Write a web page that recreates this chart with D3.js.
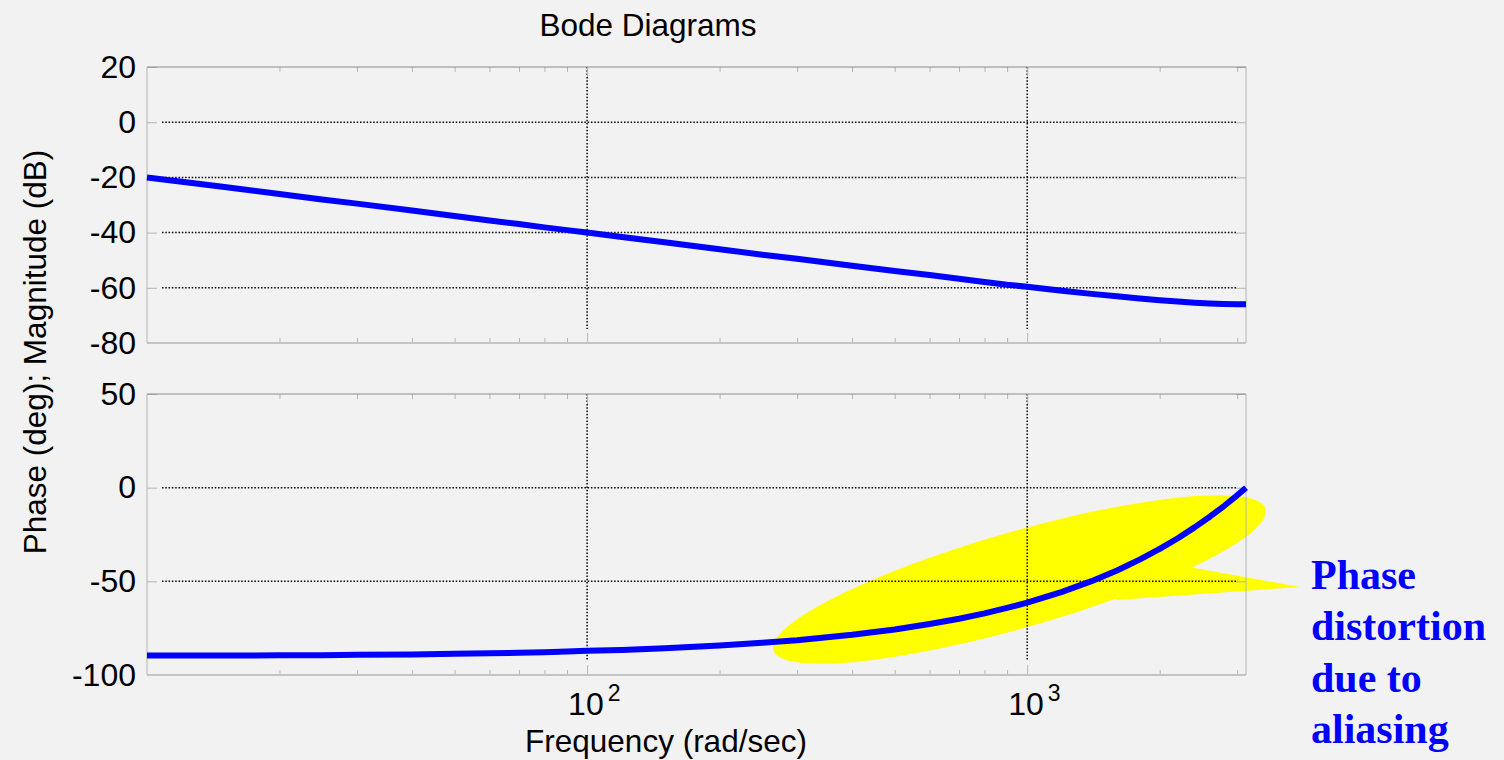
<!DOCTYPE html>
<html>
<head>
<meta charset="utf-8">
<script src="https://cdn.jsdelivr.net/npm/d3@7"></script>
<style>
  body { margin: 0; background: #f2f2f2; }
  svg { display: block; }
  .tick text { font-family: "Liberation Sans", Arial, sans-serif; font-size: 32px; fill: #000; }
  .lbl { font-family: "Liberation Sans", Arial, sans-serif; fill: #000; }
  .note { font-family: "Liberation Serif", "Times New Roman", serif; font-weight: bold; font-size: 42px; fill: #0000ff; }
</style>
</head>
<body>
<div id="chart"></div>
<script>
var width = 1504,
    height = 760;

// frequency points (rad/sec)
var freq = [10, 12, 15, 20, 25, 30, 40, 50, 60, 70, 80, 90, 100, 120, 150, 200, 250, 300, 400, 500,
            600, 700, 800, 900, 1000, 1200, 1400, 1600, 1800, 2000, 2200, 2400, 2600, 2800, 3000, 3142];

// magnitude (dB)
var magnitude = [-20, -21.6, -23.5, -26, -28, -29.5, -32, -34, -35.6, -36.9, -38.1, -39.1, -40, -41.6, -43.5, -46, -48, -49.5, -52, -53.9,
                 -55.4, -56.7, -57.9, -58.9, -59.6, -61.1, -62.2, -63.1, -63.9, -64.5, -65, -65.4, -65.7, -65.9, -66, -66];

// phase (deg)
var phase = [-89.6, -89.6, -89.6, -89.5, -89.4, -89.2, -89, -88.7, -88.4, -88.1, -87.8, -87.5, -87.1, -86.6, -85.7, -84.3, -82.8, -81.4, -78.5, -75.7,
             -72.8, -70, -67.1, -64.2, -61.4, -55.6, -49.9, -44.2, -38.4, -32.7, -27, -21.2, -15.5, -9.8, -4.1, 0];

var magTicks = [20, 0, -20, -40, -60, -80],
    magGrid = [0, -20, -40, -60],
    phaseTicks = [50, 0, -50, -100],
    phaseGrid = [0, -50],
    decadeTicks = [100, 1000],
    decadeExp = ["2", "3"];

var noteLines = ["Phase", "distortion", "due to", "aliasing"];

var x0 = 147, x1 = 1246;

var xScale = d3.scaleLog().domain([10, 1000 * Math.PI]).range([x0, x1]);
var yMag = d3.scaleLinear().domain([-80, 20]).range([343, 67]);
var yPh = d3.scaleLinear().domain([-100, 50]).range([675, 394]);

var svg = d3.select("#chart")
    .append("svg")
    .attr("width", width)
    .attr("height", height);

svg.append("rect")
    .attr("width", width)
    .attr("height", height)
    .style("fill", "#f2f2f2");

// yellow callout goes under the axes
var cx = xScale(960), cy = yPh(-49);
svg.append("ellipse")
    .attr("cx", cx)
    .attr("cy", cy)
    .attr("rx", 256)
    .attr("ry", 48)
    .attr("transform", "rotate(-16," + cx + "," + cy + ")")
    .style("fill", "#ffff00");

svg.append("polygon")
    .attr("points", [
        [xScale(1592), yPh(-60)],
        [xScale(4170), yPh(-53)],
        [xScale(2383), yPh(-42.8)],
        [xScale(1550), yPh(-47)]
    ].map(function (p) { return p.join(","); }).join(" "))
    .style("fill", "#ffff00");

var minor = xScale.ticks().filter(function (d) { return decadeTicks.indexOf(d) < 0 && d > 10; });

function drawPanel(yScale, ticks, grid, values) {
    var top = yScale.range()[1],
        bottom = yScale.range()[0];

    var g = svg.append("g");

    // grid
    g.selectAll(".hgrid")
        .data(grid)
        .enter().append("line")
        .attr("x1", x0 + 15)
        .attr("x2", x1 - 10)
        .attr("y1", function (d) { return yScale(d); })
        .attr("y2", function (d) { return yScale(d); })
        .style("stroke", "#000")
        .style("stroke-width", 1.5)
        .style("stroke-dasharray", "1.5,1.8");

    g.selectAll(".vgrid")
        .data(decadeTicks)
        .enter().append("line")
        .attr("x1", function (d) { return xScale(d); })
        .attr("x2", function (d) { return xScale(d); })
        .attr("y1", top)
        .attr("y2", bottom - 14)
        .style("stroke", "#000")
        .style("stroke-width", 1.5)
        .style("stroke-dasharray", "1.5,1.8");

    // minor / major ticks inside the box
    var sides = [[d3.axisBottom, bottom], [d3.axisTop, top]];
    sides.forEach(function (a) {
        g.append("g")
            .attr("transform", "translate(0," + a[1] + ")")
            .attr("color", "#b4b4b4")
            .call(a[0](xScale).tickValues(minor).tickSize(-5).tickSizeOuter(0).tickFormat(""))
            .call(function (s) { s.select(".domain").remove(); });
        g.append("g")
            .attr("transform", "translate(0," + a[1] + ")")
            .attr("color", "#b4b4b4")
            .call(a[0](xScale).tickValues(decadeTicks).tickSize(-10).tickSizeOuter(0).tickFormat(""))
            .call(function (s) { s.select(".domain").remove(); });
    });

    g.append("g")
        .attr("transform", "translate(" + x0 + ",0)")
        .attr("color", "#b4b4b4")
        .call(d3.axisLeft(yScale).tickValues(ticks).tickSize(-10).tickPadding(11).tickFormat(function (d) { return String(d); }))
        .call(function (s) { s.select(".domain").remove(); });

    g.append("g")
        .attr("transform", "translate(" + x1 + ",0)")
        .attr("color", "#b4b4b4")
        .call(d3.axisRight(yScale).tickValues(ticks).tickSize(-10).tickFormat(""))
        .call(function (s) { s.select(".domain").remove(); });

    // box
    g.append("line").attr("x1", x0).attr("x2", x1).attr("y1", top).attr("y2", top).style("stroke", "#8c8c8c");
    g.append("line").attr("x1", x0).attr("x2", x1).attr("y1", bottom).attr("y2", bottom).style("stroke", "#c4c4c4").style("stroke-width", 2);
    g.append("line").attr("x1", x0).attr("x2", x0).attr("y1", top).attr("y2", bottom).style("stroke", "#b4b4b4");
    g.append("line").attr("x1", x1).attr("x2", x1).attr("y1", top).attr("y2", bottom).style("stroke", "#b4b4b4");

    var line = d3.line()
        .x(function (d, i) { return xScale(freq[i]); })
        .y(function (d) { return yScale(d); });

    g.append("path")
        .datum(values)
        .attr("d", line)
        .style("fill", "none")
        .style("stroke", "#0000ff")
        .style("stroke-width", 6)
        .style("stroke-linejoin", "round");
}

drawPanel(yMag, magTicks, magGrid, magnitude);
drawPanel(yPh, phaseTicks, phaseGrid, phase);

// x tick labels 10^2, 10^3
decadeTicks.forEach(function (d, i) {
    var t = svg.append("text")
        .attr("class", "lbl")
        .attr("x", xScale(d) - 19)
        .attr("y", 715)
        .style("font-size", "32px");
    t.append("tspan").text("10");
    t.append("tspan").attr("dx", 4).attr("dy", -14).style("font-size", "23px").text(decadeExp[i]);
});

svg.append("text")
    .attr("class", "lbl")
    .attr("x", 666)
    .attr("y", 752)
    .style("text-anchor", "middle")
    .style("font-size", "31.5px")
    .text("Frequency (rad/sec)");

svg.append("text")
    .attr("class", "lbl")
    .attr("x", 648)
    .attr("y", 36)
    .style("text-anchor", "middle")
    .style("font-size", "31.5px")
    .text("Bode Diagrams");

svg.append("text")
    .attr("class", "lbl")
    .attr("transform", "translate(46,352) rotate(-90)")
    .style("text-anchor", "middle")
    .style("font-size", "31.5px")
    .text("Phase (deg); Magnitude (dB)");

// annotation
svg.selectAll(".note")
    .data(noteLines)
    .enter().append("text")
    .attr("class", "note")
    .attr("x", 1311)
    .attr("y", function (d, i) { return 589 + i * 51.3; })
    .text(function (d) { return d; });
</script>
</body>
</html>
